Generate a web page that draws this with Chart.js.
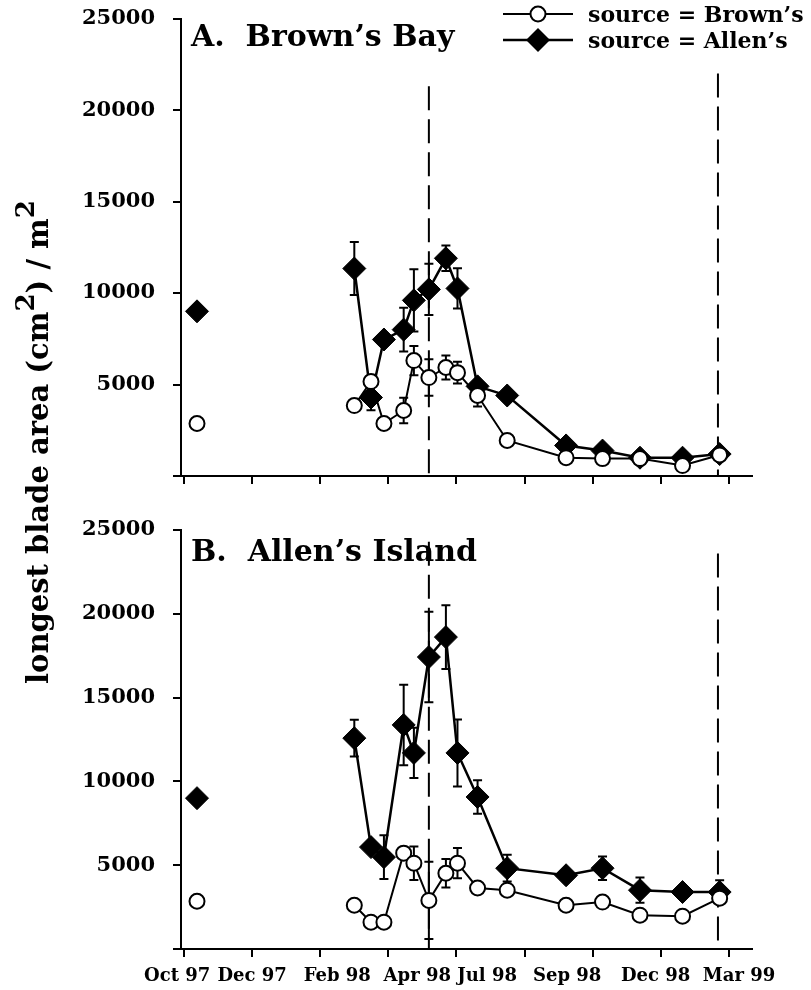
<!DOCTYPE html>
<html>
<head>
<meta charset="utf-8">
<script src="https://cdn.jsdelivr.net/npm/chart.js@4"></script>
<style>
  body { margin: 0; background: #fff; }
  #wrap { position: relative; width: 811px; height: 990px; overflow: hidden;
          font-family: "DejaVu Serif", serif; font-weight: bold; color: #000; }
  canvas { position: absolute; left: 0; }
  .ptitle { position: absolute; left: 191px; font-size: 30px; line-height: 32px; white-space: nowrap; }
  .lrow { position: absolute; left: 502px; height: 26px; white-space: nowrap; }
  .lrow svg { position: absolute; left: 0; top: 0; }
  .lrow span { position: absolute; left: 86px; top: 0; font-size: 22px; line-height: 26px; }
  #ytitle { position: absolute; width: 600px; left: -262px; top: 424px; text-align: center;
            font-size: 29px; line-height: 36px; transform: rotate(-90deg); white-space: nowrap; }
  #ytitle sup { font-size: 0.9em; vertical-align: 0.55em; line-height: 0; }
</style>
</head>
<body>
<div id="wrap">
  <!-- top canvas starts above the page so the y tick label padding fits -->
  <canvas id="chartBay" width="811" height="519" style="top:-12px"></canvas>
  <canvas id="chartIsland" width="811" height="504" style="top:486px"></canvas>

  <div class="ptitle" style="top:20px">A.&nbsp;&nbsp;Brown’s Bay</div>
  <div class="ptitle" style="top:535px">B.&nbsp;&nbsp;Allen’s Island</div>

  <div class="lrow" style="top:1px">
    <svg width="80" height="26"><line x1="1" y1="13" x2="71" y2="13" stroke="#000" stroke-width="2"/>
      <circle cx="36" cy="13" r="7.5" fill="#fff" stroke="#000" stroke-width="2"/></svg>
    <span>source = Brown’s</span>
  </div>
  <div class="lrow" style="top:27px">
    <svg width="80" height="26"><line x1="1" y1="13" x2="71" y2="13" stroke="#000" stroke-width="2.5"/>
      <polygon points="24,13 36,1 48,13 36,25" fill="#000"/></svg>
    <span>source = Allen’s</span>
  </div>

  <div id="ytitle">longest blade area (cm<sup>2</sup>) / m<sup>2</sup></div>
</div>

<script>
// ---------- Data (x = months since 1 Oct 1997) ----------
const sampleMonth = [0.38, 5.00, 5.49, 5.87, 6.45, 6.75, 7.19, 7.69, 8.03, 8.62, 9.49, 11.22, 12.29, 13.39, 14.64, 15.73];

// A. Brown's Bay
const bayFromBrowns    = [2870, 3850, 5160, 2870, 3580, 6310, 5380, 5930, 5650, 4400, 1940, 1000, 950, 950, 570, 1150];
const bayFromBrownsErr = [0, 0, 0, 0, 700, 800, 1000, 650, 600, 600, 0, 0, 0, 0, 0, 0];
const bayFromAllens    = [9000, 11340, 4290, 7460, 8000, 9600, 10200, 11900, 10250, 4900, 4400, 1670, 1390, 1000, 1000, 1200];
const bayFromAllensErr = [0, 1450, 700, 0, 1200, 1700, 1400, 700, 1100, 0, 300, 0, 0, 0, 0, 0];

// B. Allen's Island
const islandFromBrowns    = [2850, 2610, 1600, 1600, 5720, 5120, 2900, 4520, 5120, 3640, 3510, 2610, 2800, 2020, 1960, 3030];
const islandFromBrownsErr = [0, 0, 0, 0, 0, 1000, 2300, 850, 900, 0, 0, 0, 0, 0, 0, 0];
const islandFromAllens    = [9000, 12580, 6080, 5480, 13370, 11700, 17420, 18610, 11700, 9070, 4820, 4400, 4820, 3510, 3400, 3400];
const islandFromAllensErr = [0, 1100, 0, 1300, 2400, 1500, 2700, 1900, 2000, 1000, 800, 0, 700, 750, 0, 700];

// axes
const yTicks = [0, 5000, 10000, 15000, 20000, 25000];
const monthTicks = [0, 2, 4, 6, 8, 10, 12, 14, 16];
const monthLabels = ["Oct 97", "Dec 97", "Feb 98", "Apr 98", "Jul 98", "Sep 98", "Dec 98", "Mar 99"];
const monthLabelPos = [-0.2, 2.0, 4.5, 6.85, 8.9, 11.25, 13.85, 16.3];

// dashed reference lines (month, top of line in each panel)
const transplantMonths = [7.19, 15.68];
const bayDashTop = [21300, 22000];
const islandDashTop = [24300, 23600];

const FONT = "'DejaVu Serif', serif";

// ---------- Error bar plugin ----------
const errorBars = {
  id: "errorBars",
  beforeDatasetsDraw(chart) {
    const ctx = chart.ctx, xs = chart.scales.x, ys = chart.scales.y;
    ctx.save();
    ctx.strokeStyle = "#000";
    ctx.lineWidth = 2;
    chart.data.datasets.forEach(ds => {
      if (!ds.errors) return;
      ds.data.forEach((p, i) => {
        const e = ds.errors[i];
        if (!e) return;
        const px = xs.getPixelForValue(p.x);
        const hi = ys.getPixelForValue(p.y + e);
        const lo = ys.getPixelForValue(p.y - e);
        ctx.beginPath();
        ctx.moveTo(px, hi); ctx.lineTo(px, lo);
        ctx.moveTo(px - 4.5, hi); ctx.lineTo(px + 4.5, hi);
        ctx.moveTo(px - 4.5, lo); ctx.lineTo(px + 4.5, lo);
        ctx.stroke();
      });
    });
    ctx.restore();
  }
};

function pts(vals) { return vals.map((v, i) => ({ x: sampleMonth[i], y: v })); }

function makeChart(id, browns, brownsErr, allens, allensErr, dashTop, opts) {
  // the Oct 97 sample stands alone, no line to the next one
  const hideFirst = { borderColor: c => (c.p0DataIndex === 0 ? "rgba(0,0,0,0)" : "#000") };
  const datasets = [
    { label: "source = Brown's", data: pts(browns), errors: brownsErr,
      borderColor: "#000", borderWidth: 2, backgroundColor: "#fff",
      pointStyle: "circle", pointRadius: 7.5, pointBorderWidth: 2, segment: hideFirst, order: 0 },
    { label: "source = Allen's", data: pts(allens), errors: allensErr,
      borderColor: "#000", borderWidth: 2.5, backgroundColor: "#000",
      pointStyle: "rectRot", pointRadius: 11.5, pointBorderWidth: 1, segment: hideFirst, order: 1 }
  ];
  transplantMonths.forEach((m, i) => {
    datasets.push({ data: [{ x: m, y: dashTop[i] }, { x: m, y: 0 }],
      borderColor: "#000", borderWidth: 2, borderDash: [24, 9], pointRadius: 0, order: 5 });
  });

  const scales = {
    x: {
      type: "linear", min: -0.09, max: 16.68, weight: 0,
      afterBuildTicks: s => { s.ticks = monthTicks.map(v => ({ value: v })); },
      afterFit: s => { s.height = opts.xHeight; },
      ticks: { display: false },
      grid: { drawOnChartArea: false, drawTicks: true, tickLength: 8, color: "#000", lineWidth: 2 },
      border: { display: true, color: "#000", width: 2 }
    },
    y: {
      min: 0, max: 25000,
      afterBuildTicks: s => { s.ticks = yTicks.map(v => ({ value: v })); },
      afterFit: s => { s.width = 181; },
      ticks: { padding: 18, color: "#000", font: { family: FONT, size: 21, weight: "bold" },
               callback: v => (v === 0 ? "" : String(v)) },
      grid: { drawOnChartArea: false, drawTicks: true, tickLength: 8, color: "#000", lineWidth: 2 },
      border: { display: true, color: "#000", width: 2 }
    }
  };
  if (opts.labels) {
    scales.xl = {
      type: "linear", position: "bottom", axis: "x", min: -0.09, max: 16.68, weight: 1,
      afterBuildTicks: s => { s.ticks = monthLabelPos.map(v => ({ value: v })); },
      afterFit: s => { s.height = opts.labelHeight; },
      ticks: { autoSkip: false, maxRotation: 0, padding: 9, color: "#000",
               font: { family: FONT, size: 18, weight: "bold" },
               callback: (v, i) => monthLabels[i] },
      grid: { display: false, drawTicks: false },
      border: { display: false }
    };
  }

  return new Chart(document.getElementById(id), {
    type: "line",
    data: { datasets },
    options: {
      responsive: false, animation: false, devicePixelRatio: 1,
      layout: { padding: { top: opts.padTop, right: 59, left: 0, bottom: 0 } },
      plugins: { legend: { display: false }, tooltip: { enabled: false } },
      scales
    },
    plugins: [errorBars]
  });
}

// top: canvas at -12, area 30..488 in canvas = 18..476 on the page
makeChart("chartBay", bayFromBrowns, bayFromBrownsErr, bayFromAllens, bayFromAllensErr, bayDashTop,
  { padTop: 30, xHeight: 31, labels: false });
// bottom: canvas at 486, area 44..463 in canvas = 530..949 on the page
makeChart("chartIsland", islandFromBrowns, islandFromBrownsErr, islandFromAllens, islandFromAllensErr, islandDashTop,
  { padTop: 44, xHeight: 8, labels: true, labelHeight: 33 });
</script>
</body>
</html>
